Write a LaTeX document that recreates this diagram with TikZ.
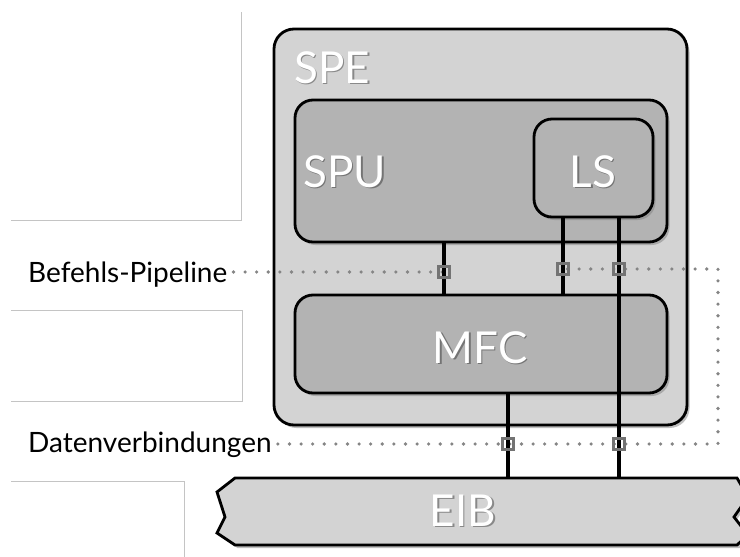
\documentclass[tikz,border=0pt]{standalone}
\usepackage{fontspec}
\setmainfont{Lato}
\usetikzlibrary{shadows}
\definecolor{outerfill}{HTML}{D3D3D3}
\definecolor{innerfill}{HTML}{B3B3B3}
\definecolor{dotcol}{HTML}{858585}
\definecolor{sqcol}{HTML}{737373}
\definecolor{rulecol}{HTML}{C4C4C4}
\begin{document}
\begin{tikzpicture}[x=1pt,y=-1pt,
  blk/.style={draw=black, line width=2.8pt, inner sep=0pt, outer sep=0pt,
    drop shadow={opacity=0.5, shadow xshift=2.5pt, shadow yshift=-3pt}},
  outerbox/.style={blk, fill=outerfill, rounded corners=20pt},
  innerbox/.style={blk, fill=innerfill, rounded corners=18pt},
  bigtxt/.style={text=white, font=\fontsize{44}{48}\selectfont, inner sep=0pt},
  bigshadow/.style={text=black, opacity=0.35, font=\fontsize{44}{48}\selectfont, inner sep=0pt},
  lbl/.style={text=black, font=\fontsize{28}{32}\selectfont, inner sep=0pt},
  bus/.style={draw=black, line width=3.3pt},
  dots/.style={draw=dotcol, line width=3.6pt, line cap=round, dash pattern=on 0pt off 11.6pt},
  sq/.style={draw=sqcol, line width=2.8pt, minimum size=10.5pt, inner sep=0pt},
  rulel/.style={draw=rulecol, line width=1pt}
]
\useasboundingbox (0,0) rectangle (740,557);
\fill[white] (0,0) rectangle (740,557);

% grey rule frames on the left
\draw[rulel] (11,220.5) -- (241,220.5) -- (241,12);
\draw[rulel] (11,310.5) -- (242,310.5) -- (242,401) -- (11,401);
\draw[rulel] (11,481) -- (184,481) -- (184,557);

% SPE box
\node[outerbox, minimum width=413pt, minimum height=396pt] (spe) at (480.5,227) {};
% SPU, LS, MFC
\node[innerbox, minimum width=372pt, minimum height=142pt] (spu) at (481,171) {};
\node[innerbox, minimum width=119pt, minimum height=98pt] (ls) at (593.5,168) {};
\node[innerbox, minimum width=372pt, minimum height=98pt] (mfc) at (481,344) {};

% EIB bus shape
\draw[blk, fill=outerfill, line join=miter]
  (235,478) -- (737,478) -- (748,497) -- (734,517) -- (748,535) -- (737,545) -- (235,545)
  -- (217,533) -- (225,517) -- (217,492) -- cycle;
\coordinate (eibtop) at (0,478);

% labels on the left
\node[lbl, anchor=base west] (befehl) at (28,282) {Befehls-Pipeline};
\node[lbl, anchor=base west] (daten) at (28,452) {Datenverbindungen};

% column coordinates
\coordinate (xa) at (444,0);
\coordinate (xb) at (563,0);
\coordinate (xc) at (619,0);
\coordinate (xd) at (508,0);

% square positions and corner points of the dotted route
\coordinate (pa) at (444,272);
\coordinate (pb) at (563,269);
\coordinate (pc) at (619,269);
\coordinate (pd) at (508,444);
\coordinate (pe) at (619,444);
\coordinate (ce1) at (718,444);
\coordinate (ce2) at (718,269);

% dotted lines
\draw[dots] (befehl.east |- pa) ++(6,0) -- (pa);
\draw[dots] (daten.east |- pd) ++(6,0) -- (ce1) -- (ce2) -- (pb);

% bus connectors
\draw[bus] (spu.south -| xa) -- (mfc.north -| xa);
\draw[bus] (ls.south -| xb) -- (mfc.north -| xb);
\draw[bus] (ls.south -| xc) -- (eibtop -| xc);
\draw[bus] (mfc.south -| xd) -- (eibtop -| xd);

% squares
\node[sq] (qa) at (pa) {};
\node[sq] (qb) at (pb) {};
\node[sq] (qc) at (pc) {};
\node[sq] (qd) at (pd) {};
\node[sq] (qe) at (pe) {};

% white titles with soft shadow
\node[bigshadow, anchor=base west] (speS) at (295.5,84.5) {SPE};
\node[bigtxt, anchor=base west] (speT) at (294,83) {SPE};
\node[bigshadow, anchor=base west] (spuS) at (304.5,188.5) {SPU};
\node[bigtxt, anchor=base west] (spuT) at (303,187) {SPU};
\node[bigshadow, anchor=base] (lsS) at (594.5,188.5) {LS};
\node[bigtxt, anchor=base] (lsT) at (593,187) {LS};
\node[bigshadow, anchor=base] (mfcS) at (481.5,364.5) {MFC};
\node[bigtxt, anchor=base] (mfcT) at (480,363) {MFC};
\node[bigshadow, anchor=base] (eibS) at (464.5,527.5) {EIB};
\node[bigtxt, anchor=base] (eib) at (463,526) {EIB};
\end{tikzpicture}
\end{document}
